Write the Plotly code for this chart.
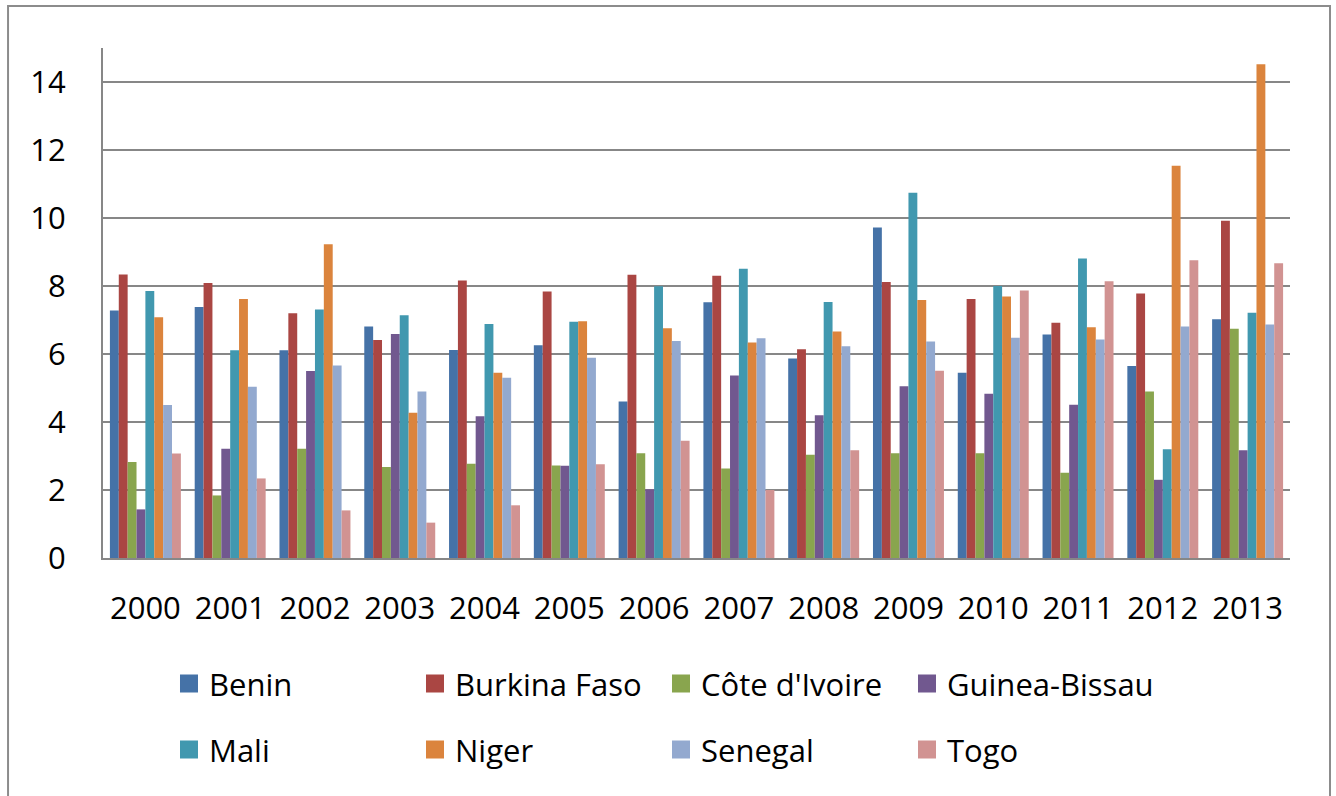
import plotly.graph_objects as go

years = ["2000", "2001", "2002", "2003", "2004", "2005", "2006",
         "2007", "2008", "2009", "2010", "2011", "2012", "2013"]

benin = [7.28, 7.38, 6.11, 6.81, 6.12, 6.26, 4.60, 7.52, 5.87, 9.72, 5.45, 6.57, 5.65, 7.02]
burkina_faso = [8.34, 8.09, 7.20, 6.41, 8.16, 7.84, 8.33, 8.30, 6.14, 8.12, 7.62, 6.92, 7.78, 9.92]
cote_divoire = [2.82, 1.84, 3.21, 2.68, 2.77, 2.72, 3.08, 2.63, 3.04, 3.08, 3.08, 2.51, 4.90, 6.74]
guinea_bissau = [1.43, 3.21, 5.50, 6.59, 4.17, 2.71, 2.02, 5.37, 4.20, 5.05, 4.83, 4.51, 2.30, 3.17]
mali = [7.85, 6.11, 7.31, 7.14, 6.88, 6.95, 7.99, 8.51, 7.53, 10.74, 8.00, 8.81, 3.20, 7.21]
niger = [7.08, 7.62, 9.23, 4.27, 5.45, 6.96, 6.76, 6.34, 6.66, 7.59, 7.69, 6.79, 11.54, 14.52]
senegal = [4.50, 5.04, 5.66, 4.90, 5.30, 5.89, 6.38, 6.46, 6.23, 6.37, 6.48, 6.43, 6.81, 6.87]
togo = [3.07, 2.34, 1.40, 1.04, 1.55, 2.76, 3.45, 2.00, 3.17, 5.51, 7.87, 8.14, 8.76, 8.67]

countries = ["Benin", "Burkina Faso", "Côte d'Ivoire", "Guinea-Bissau",
             "Mali", "Niger", "Senegal", "Togo"]
series = [benin, burkina_faso, cote_divoire, guinea_bissau,
          mali, niger, senegal, togo]
colors = ["#4572A7", "#AA4643", "#89A54E", "#71588F",
          "#4198AF", "#DB843D", "#93A9CF", "#D19392"]

FONT = "Open Sans"
GRID = "#878787"

fig = go.Figure()

for name, vals, col in zip(countries, series, colors):
    fig.add_trace(go.Bar(
        x=years, y=vals, name=name, marker_color=col,
        marker_line_width=0, showlegend=False, legendgroup=name,
    ))

# Legend entries: square swatches, split into two rows of four
for i, (name, col) in enumerate(zip(countries, colors)):
    fig.add_trace(go.Scatter(
        x=[None], y=[None], mode="markers", name=name, legendgroup=name,
        marker=dict(symbol="square", size=16, color=col,
                    line=dict(color=col, width=2)),
        legend="legend" if i < 4 else "legend2",
    ))

legend_common = dict(
    orientation="h", xanchor="left", yanchor="middle",
    font=dict(family=FONT, size=31, color="#000000"),
    entrywidthmode="pixels", entrywidth=201,
    bgcolor="rgba(0,0,0,0)", borderwidth=0,
    itemclick=False, itemdoubleclick=False,
)

fig.update_layout(
    width=1336, height=796,
    margin=dict(l=103, r=46, t=48, b=238),
    paper_bgcolor="white", plot_bgcolor="white",
    barmode="group", bargap=0.163, bargroupgap=0,
    font=dict(family=FONT, size=31, color="#000000"),
    legend=dict(x=0.0556, y=-0.247, **legend_common),
    legend2=dict(x=0.0556, y=-0.376, **legend_common),
    xaxis=dict(
        type="category", showgrid=False, showline=True,
        linecolor=GRID, linewidth=2, ticks="", ticklabelstandoff=22,
        tickfont=dict(family=FONT, size=31, color="#000000"),
        zeroline=False,
    ),
    yaxis=dict(
        range=[0, 15], dtick=2, tick0=0, showgrid=True,
        gridcolor=GRID, gridwidth=2, showline=True, linecolor=GRID,
        linewidth=2, ticks="", ticklabelstandoff=29, zeroline=False,
        tickfont=dict(family=FONT, size=31, color="#000000"),
    ),
    shapes=[dict(
        type="rect", xref="paper", yref="paper",
        x0=-0.080, x1=1.0337, y0=-0.48, y1=1.0824,
        line=dict(color="#8C8C8C", width=2), fillcolor="rgba(0,0,0,0)",
        layer="below",
    )],
)

fig.write_html("out.html")
